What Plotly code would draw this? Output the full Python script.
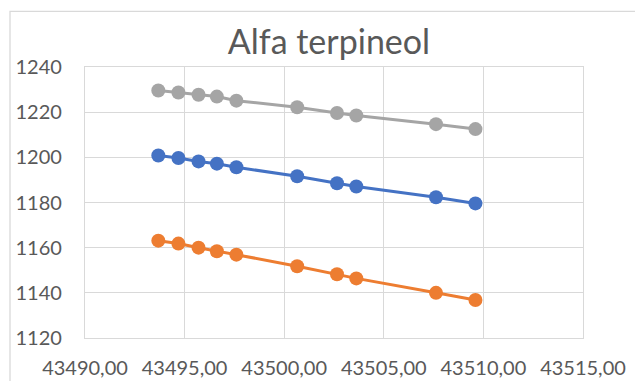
import plotly.graph_objects as go

# Sampling times (spreadsheet date serials) shared by the three series
x_vals = [43493.68, 43494.69, 43495.70, 43496.62, 43497.60,
          43500.65, 43502.65, 43503.62, 43507.62, 43509.60]

series_blue = [1200.8, 1199.7, 1198.2, 1197.2, 1195.6,
               1191.6, 1188.5, 1187.1, 1182.3, 1179.6]
series_orange = [1163.1, 1161.8, 1160.0, 1158.4, 1156.9,
                 1151.8, 1148.2, 1146.4, 1140.0, 1136.8]
series_grey = [1229.6, 1228.7, 1227.7, 1226.9, 1225.1,
               1222.2, 1219.6, 1218.5, 1214.7, 1212.5]

series = [
    ("Serie1", series_blue, "#4472C4"),
    ("Serie2", series_orange, "#ED7D31"),
    ("Serie3", series_grey, "#A5A5A5"),
]

x_range = [43490, 43515]
y_range = [1120, 1240]

FONT = "Lato"
TEXT = "#595959"
GRID = "#D9D9D9"

fig = go.Figure()
for name, ys, color in series:
    fig.add_trace(go.Scatter(
        x=x_vals, y=ys, name=name, mode="lines+markers",
        line=dict(color=color, width=3),
        marker=dict(color=color, size=14),
        cliponaxis=False,
    ))

fig.update_layout(
    width=635, height=381,
    margin=dict(l=85, r=52, t=67, b=43, autoexpand=False),
    paper_bgcolor="white", plot_bgcolor="white",
    showlegend=False,
    separators=", ",
    font=dict(family=FONT, color=TEXT),
    title=dict(
        text="Alfa terpineol",
        font=dict(family=FONT, size=34, color=TEXT, weight=400),
        x=329 / 635, xref="container", xanchor="center",
        y=1 - 42 / 381, yref="container", yanchor="middle",
    ),
    # chart-area border, running off the right and bottom edges
    shapes=[dict(
        type="rect", xref="paper", yref="paper",
        x0=(10 - 85) / 498, x1=(700 - 85) / 498,
        y0=-1, y1=1 + (67.5 - 12) / 270.5,
        line=dict(color=GRID, width=1.3), fillcolor="rgba(0,0,0,0)",
        layer="below",
    )],
)

fig.update_xaxes(
    range=x_range, dtick=5, tick0=43490, tickformat=".2f",
    showgrid=True, gridcolor=GRID, gridwidth=1.3,
    showline=True, linecolor=GRID, linewidth=1.3, mirror=True,
    zeroline=False, ticks="", ticklabelstandoff=12, automargin=False,
    tickfont=dict(family=FONT, size=20, color=TEXT),
)
fig.update_yaxes(
    range=y_range, dtick=20, tick0=1120,
    showgrid=True, gridcolor=GRID, gridwidth=1.3,
    showline=True, linecolor=GRID, linewidth=1.3, mirror=True,
    zeroline=False, ticks="", ticklabelstandoff=18, automargin=False,
    tickfont=dict(family=FONT, size=20, color=TEXT),
)

fig.write_html("out.html")
